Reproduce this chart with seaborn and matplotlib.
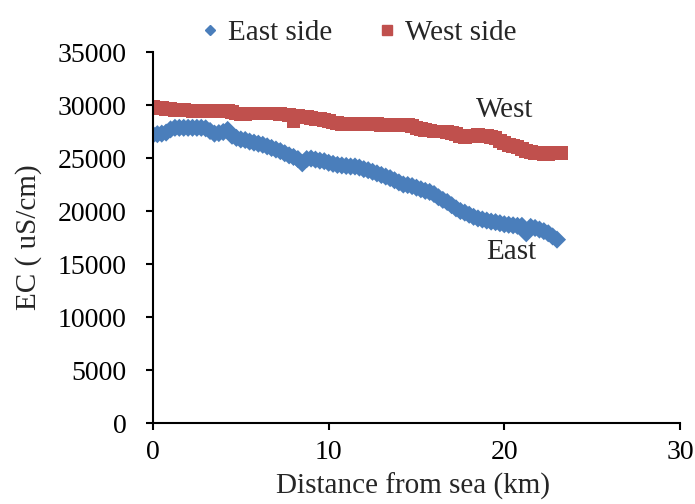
import matplotlib
matplotlib.use("Agg")
import matplotlib.pyplot as plt
import seaborn as sns
import pandas as pd
import numpy as np

# Electrical conductivity profiles along both banks, sampled every 0.25 km
east_km = [i * 0.25 for i in range(93)]
east_ec = [
    27200, 27250, 27300, 27400, 27700, 27850, 27850, 27850, 27850, 27850,
    27850, 27850, 27800, 27550, 27300, 27350, 27450, 27650, 27100, 26900,
    26750, 26700, 26550, 26450, 26350, 26250, 26100, 25950, 25800, 25650,
    25450, 25250, 25100, 24900, 24500, 24900, 24950, 24850, 24750, 24700,
    24550, 24450, 24350, 24300, 24250, 24200, 24200, 24100, 23950, 23850,
    23700, 23550, 23400, 23250, 23100, 22900, 22700, 22500, 22450, 22350,
    22200, 22050, 21900, 21800, 21600, 21300, 21050, 20850, 20550, 20250,
    20000, 19850, 19650, 19450, 19300, 19200, 19100, 19000, 18950, 18850,
    18750, 18700, 18650, 18600, 18600, 17900, 18500, 18400, 18250, 18100,
    17900, 17600, 17300,
]

west_km = [i * 0.25 for i in range(94)]
west_ec = [
    29800, 29750, 29700, 29650, 29600, 29550, 29500, 29500, 29480, 29470,
    29460, 29460, 29460, 29450, 29450, 29450, 29450, 29400, 29300, 29200,
    29150, 29150, 29200, 29200, 29200, 29200, 29200, 29200, 29200, 29150,
    29100, 29050, 28500, 28950, 28900, 28850, 28800, 28700, 28650, 28600,
    28450, 28350, 28300, 28250, 28250, 28250, 28230, 28220, 28200, 28190,
    28180, 28170, 28150, 28150, 28140, 28130, 28120, 28110, 28100, 28000,
    27850, 27700, 27650, 27600, 27500, 27500, 27500, 27450, 27400, 27250,
    27100, 27000, 27050, 27100, 27150, 27100, 27050, 26950, 26850, 26600,
    26400, 26250, 26100, 26000, 25850, 25700, 25600, 25500, 25450, 25420,
    25400, 25450, 25500, 25500,
]

series_names = ["East side", "West side"]
colors = {"East side": "#4A7EBB", "West side": "#C0504D"}
markers = {"East side": "D", "West side": "s"}
sizes = {"East side": 85, "West side": 100}

df = pd.concat([
    pd.DataFrame({"km": east_km, "ec": east_ec, "side": series_names[0]}),
    pd.DataFrame({"km": west_km, "ec": west_ec, "side": series_names[1]}),
])

sns.set_theme(style="ticks")
plt.rcParams["font.family"] = ["Liberation Serif", "DejaVu Serif"]
plt.rcParams["axes.linewidth"] = 1.5

fig = plt.figure(figsize=(6.95, 5.04), dpi=100)
ax = fig.add_axes([0.2201, 0.1607, 0.9784 - 0.2201, 0.8968 - 0.1607])

for name in series_names:
    sub = df[df["side"] == name]
    sns.scatterplot(data=sub, x="km", y="ec", ax=ax, color=colors[name],
                    marker=markers[name], s=sizes[name],
                    edgecolor="none", linewidth=0, label=name, legend=False)

ax.set_xlim(0, 30)
ax.set_ylim(0, 35000)
ax.set_xticks([0, 10, 20, 30])
ax.set_yticks(range(0, 35001, 5000))
ax.tick_params(axis="both", direction="out", length=5, width=1.5,
               labelsize=20, colors="black")
ax.tick_params(axis="y", pad=14)
ax.tick_params(axis="x", pad=7)
sns.despine(ax=ax)
ax.spines["left"].set_color("black")
ax.spines["bottom"].set_color("black")

ax.set_xlabel("Distance from sea (km)", fontsize=21)
ax.set_ylabel("EC ( uS/cm)", fontsize=21)
ax.xaxis.set_label_coords(0.493, -0.133)
ax.yaxis.set_label_coords(-0.21, 0.5)

ax.text(20.0, 29500, "West", fontsize=21, ha="center", va="center")
ax.text(20.4, 16100, "East", fontsize=21, ha="center", va="center")

handles = [
    plt.Line2D([], [], linestyle="none", marker="D", markersize=5,
               color=colors["East side"], label="East side"),
    plt.Line2D([], [], linestyle="none", marker="s", markersize=7,
               color=colors["West side"], label="West side"),
]
fig.legend(handles=handles, loc="center", bbox_to_anchor=(356 / 695, 1 - 33 / 504),
           ncol=2, frameon=False, fontsize=21, handletextpad=0.1,
           columnspacing=1.4, handlelength=1.0)

fig.savefig("out.png", dpi=100)
